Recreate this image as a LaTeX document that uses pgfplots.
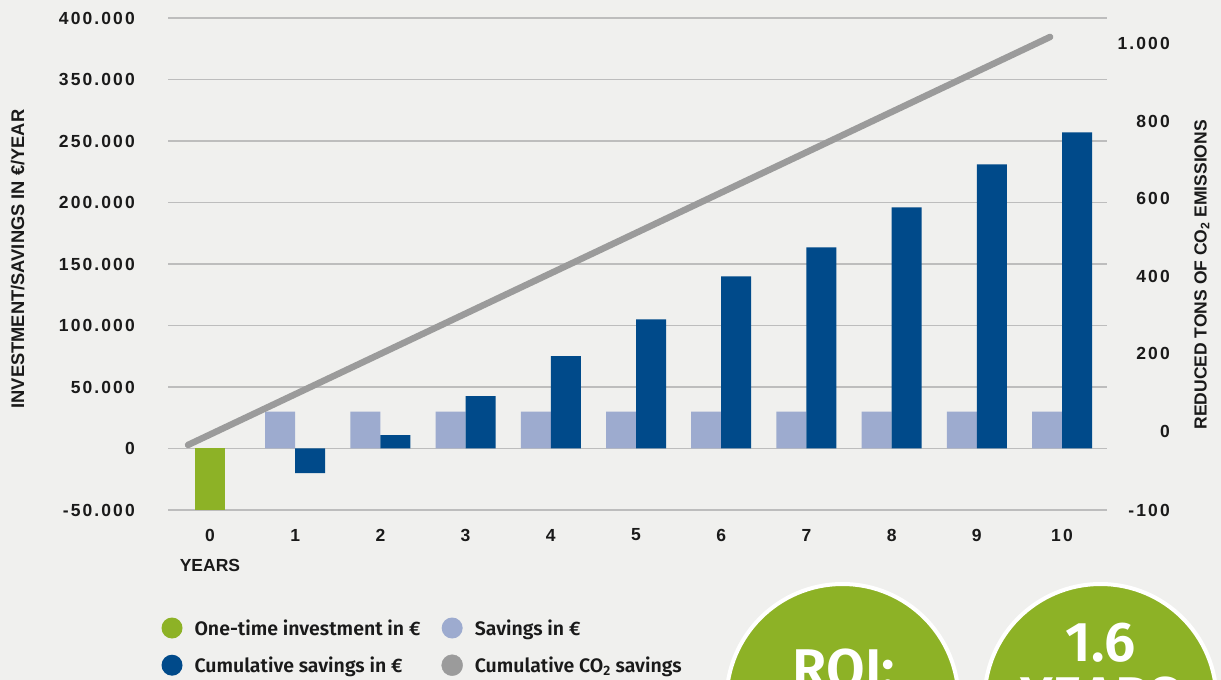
\documentclass[border=0pt]{standalone}
\usepackage{fontspec}
\setmainfont{Liberation Sans}
\newfontfamily\numfont{Liberation Sans}[LetterSpace=12]
\newfontfamily\legfont{Fira Sans SemiBold}
\usepackage{pgfplots}
\pgfplotsset{compat=1.18}
\definecolor{bg}{HTML}{F0F0EE}
\definecolor{cgreen}{HTML}{8DB226}
\definecolor{clight}{HTML}{9DABCF}
\definecolor{cdark}{HTML}{004A8A}
\definecolor{cgray}{HTML}{9B9B9B}
\definecolor{cgrid}{HTML}{BDBDBD}
\definecolor{ctext}{HTML}{1A1A1A}
\newcommand{\tickfont}{\numfont\bfseries\fontsize{17.5}{20}\selectfont}
\newcommand{\labfont}{\bfseries\fontsize{17.5}{20}\selectfont}
\begin{document}
\begin{tikzpicture}[x=1pt,y=1pt]
\clip (0,0) rectangle (1221,680);
\fill[bg] (0,0) rectangle (1221,680);
\begin{axis}[
  at={(168pt,170pt)}, anchor=south west,
  width=939pt, height=492pt, scale only axis,
  xmin=-0.493, xmax=10.528, ymin=-50000, ymax=350000,
  scaled y ticks=false,
  axis line style={draw=none},
  major tick length=0pt,
  xtick={0,1,2,3,4,5,6,7,8,9,10},
  xticklabels={0,1,2,3,4,5,6,7,8,9,10},
  ytick={-50000,0,50000,100000,150000,200000,250000,300000,350000},
  yticklabels={-50.000,0,50.000,100.000,150.000,200.000,250.000,350.000,400.000},
  ymajorgrids, grid style={cgrid, line width=1.5pt},
  tick label style={font=\tickfont, text=ctext},
  yticklabel style={anchor=east, inner sep=0pt, xshift=-33pt},
  xticklabel style={anchor=center, inner sep=0pt, yshift=-25pt},
  xlabel={YEARS},
  xlabel style={at={(axis description cs:0.0447,-0.112)}, anchor=center, inner sep=0pt, font=\labfont, text=ctext},
  ylabel={INVESTMENT/SAVINGS IN €/YEAR},
  every axis y label/.style={at={(axis description cs:-0.16,0.51)}, rotate=90, anchor=center, inner sep=0pt, font=\bfseries\fontsize{18.3}{20}\selectfont, text=ctext},
  legend columns=2,
  legend cell align=left,
  legend style={at={(axis description cs:-0.0069,-0.2185)}, anchor=north west,
    draw=none, fill=none, inner sep=0pt, outer sep=0pt,
    font=\legfont\fontsize{19.5}{23}\selectfont, text=ctext,
    nodes={inner sep=0pt},
    /tikz/every odd column/.append style={column sep=12pt},
    /tikz/every even column/.append style={column sep=21pt},
    row sep=16pt},
]
\addplot[ybar, bar width=30pt, bar shift=0pt, fill=cgreen, draw=none,
  legend image code/.code={\fill[cgreen] (0pt,0pt) circle (10.5pt);}]
  coordinates {(0,-50000)};
\addlegendentry{One-time investment in €}
\addplot[ybar, bar width=30pt, bar shift=-15pt, fill=clight, draw=none,
  legend image code/.code={\fill[clight] (0pt,0pt) circle (10.5pt);}]
  coordinates {(1,30000) (2,30000) (3,30000) (4,30000) (5,30000) (6,30000) (7,30000) (8,30000) (9,30000) (10,30000)};
\addlegendentry{Savings in €}
\addplot[ybar, bar width=30pt, bar shift=15pt, fill=cdark, draw=none,
  legend image code/.code={\fill[cdark] (0pt,0pt) circle (10.5pt);}]
  coordinates {(1,-20000) (2,10800) (3,42500) (4,75000) (5,105000) (6,140000) (7,163500) (8,196000) (9,231000) (10,257000)};
\addlegendentry{Cumulative savings in €}
\addlegendimage{legend image code/.code={\fill[cgray] (0pt,0pt) circle (10.5pt);}}
\addlegendentry{Cumulative CO\textsubscript{2} savings}
\end{axis}
\begin{axis}[
  at={(168pt,170pt)}, anchor=south west,
  width=939pt, height=492pt, scale only axis,
  xmin=-0.493, xmax=10.528, ymin=-204, ymax=1067,
  scaled y ticks=false,
  axis y line*=right, axis x line=none,
  axis line style={draw=none},
  major tick length=0pt,
  ytick={-204,0,200,400,600,800,1000},
  yticklabels={-100,0,200,400,600,800,1.000},
  tick label style={font=\tickfont, text=ctext},
  yticklabel style={anchor=east, inner sep=0pt, xshift=63pt},
  ylabel={REDUCED TONS OF CO\textsubscript{2} EMISSIONS},
  every axis y label/.style={at={(axis description cs:1.101,0.478)}, rotate=90, anchor=center, inner sep=0pt, font=\labfont, text=ctext},
]
\addplot[cgray, line width=6.5pt, line cap=round] coordinates {(-0.258,-36) (9.86,1018)};
\end{axis}
% decorative ROI badges
\filldraw[fill=cgreen, draw=white, line width=4pt] (842.5,-20) circle (116);
\filldraw[fill=cgreen, draw=white, line width=4pt] (1100.5,-20) circle (116);
\node[anchor=base, text=white, font=\legfont\fontsize{56}{60}\selectfont, inner sep=0pt] at (844,-9) {ROI:};
\node[anchor=base, text=white, font=\legfont\fontsize{56}{60}\selectfont, inner sep=0pt] at (1100.5,18) {1.6};
\node[anchor=base, text=white, font=\legfont\fontsize{56}{60}\selectfont, inner sep=0pt] at (1100.5,-36) {YEARS};
\end{tikzpicture}
\end{document}
